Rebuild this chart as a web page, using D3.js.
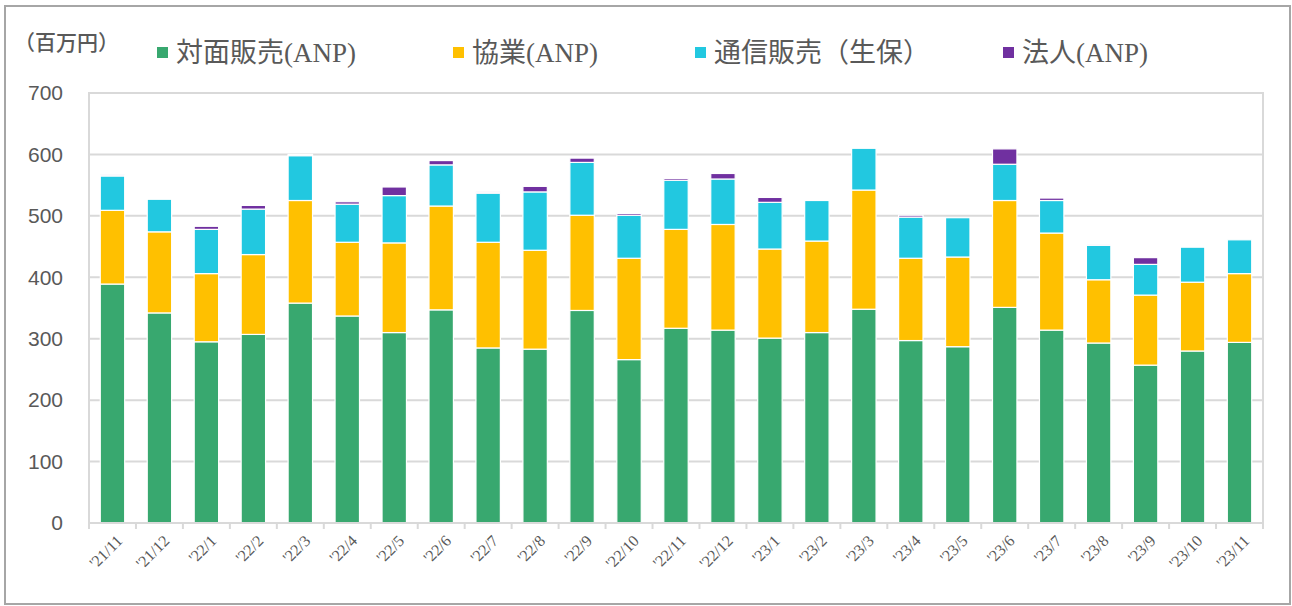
<!DOCTYPE html>
<html>
<head>
<meta charset="utf-8">
<script src="https://cdn.jsdelivr.net/npm/d3@7"></script>
<style>
  body { margin: 0; background: #fff; }
  svg { display: block; }
</style>
</head>
<body>
<svg id="chart" width="1292" height="606"></svg>
<script>
"use strict";

// month labels
const months = ["'21/11", "'21/12", "'22/1", "'22/2", "'22/3", "'22/4", "'22/5", "'22/6", "'22/7",
  "'22/8", "'22/9", "'22/10", "'22/11", "'22/12", "'23/1", "'23/2", "'23/3", "'23/4", "'23/5",
  "'23/6", "'23/7", "'23/8", "'23/9", "'23/10", "'23/11"];

// series values (百万円)
const taimen = [389, 342, 295, 307, 358, 337, 310, 347, 285, 283, 346, 266, 317, 314, 301, 310, 348, 297, 287, 351, 314, 293, 257, 280, 294];
const kyogyo = [120, 132, 111, 130, 167, 120, 146, 169, 172, 161, 155, 165, 161, 172, 145, 149, 194, 134, 146, 174, 158, 103, 114, 112, 112];
const tsushin = [56, 53, 72, 74, 73, 62, 77, 67, 80, 95, 86, 70, 80, 74, 76, 66, 68, 67, 64, 59, 53, 56, 50, 57, 55];
const hojin = [2, 0, 5, 6, 2, 4, 14, 7, 2, 9, 7, 3, 3, 9, 8, 0, 0, 3, 0, 25, 4, 2, 11, 0, 0];

const seriesNames = ["対面販売(ANP)", "協業(ANP)", "通信販売（生保）", "法人(ANP)"];
const seriesColors = ["#38a86f", "#ffc000", "#22c8e0", "#7030a0"];
const yTicks = [0, 100, 200, 300, 400, 500, 600, 700];

const rows = months.map((m, i) => ({
  month: m, s0: taimen[i], s1: kyogyo[i], s2: tsushin[i], s3: hojin[i]
}));

const svg = d3.select("#chart");

// outer frame
svg.append("rect")
  .attr("x", 5).attr("y", 6)
  .attr("width", 1285).attr("height", 598)
  .attr("fill", "none")
  .attr("stroke", "#a6a6a6")
  .attr("stroke-width", 2);

const plot = { left: 89, right: 1263, top: 93, bottom: 523 };

const x = d3.scaleBand()
  .domain(months)
  .range([plot.left, plot.right])
  .paddingInner(0.48)
  .paddingOuter(0.24);

const y = d3.scaleLinear()
  .domain([0, 700])
  .range([plot.bottom, plot.top]);

// gridlines
svg.append("g")
  .selectAll("line")
  .data(yTicks)
  .join("line")
  .attr("x1", plot.left).attr("x2", plot.right)
  .attr("y1", d => y(d)).attr("y2", d => y(d))
  .attr("stroke", "#d9d9d9")
  .attr("stroke-width", 2);

// plot border
svg.append("rect")
  .attr("x", plot.left).attr("y", plot.top)
  .attr("width", plot.right - plot.left)
  .attr("height", plot.bottom - plot.top)
  .attr("fill", "none")
  .attr("stroke", "#d9d9d9")
  .attr("stroke-width", 2);

// y tick labels
svg.append("g")
  .selectAll("text")
  .data(yTicks)
  .join("text")
  .attr("x", 63)
  .attr("y", d => y(d))
  .attr("dy", "0.35em")
  .attr("text-anchor", "end")
  .attr("font-family", "Liberation Sans, Arial, sans-serif")
  .attr("font-size", 21)
  .attr("fill", "#595959")
  .text(d => d);

// stacked bars
const stack = d3.stack().keys(["s0", "s1", "s2", "s3"]);
const layers = stack(rows);

svg.append("g")
  .selectAll("g")
  .data(layers)
  .join("g")
  .attr("fill", (d, i) => seriesColors[i])
  .selectAll("rect")
  .data(d => d.filter(v => v[1] - v[0] > 0))
  .join("rect")
  .attr("x", d => x(d.data.month))
  .attr("width", x.bandwidth())
  .attr("y", d => y(d[1]))
  .attr("height", d => y(d[0]) - y(d[1]))
  .attr("stroke", "#fff")
  .attr("stroke-width", 1.2);

// x axis ticks
const bandStep = x.step();
const tickXs = months.map(m => x(m) - x.paddingInner() * bandStep / 2).concat([plot.right]);
svg.append("line")
  .attr("x1", plot.left).attr("x2", plot.right)
  .attr("y1", plot.bottom).attr("y2", plot.bottom)
  .attr("stroke", "#d9d9d9").attr("stroke-width", 2);
svg.append("g")
  .selectAll("line")
  .data(tickXs)
  .join("line")
  .attr("x1", d => d).attr("x2", d => d)
  .attr("y1", plot.bottom).attr("y2", plot.bottom + 6)
  .attr("stroke", "#d9d9d9").attr("stroke-width", 2);

// x labels
svg.append("g")
  .selectAll("text")
  .data(months)
  .join("text")
  .attr("transform", d => "translate(" + (x(d) + x.bandwidth() / 2 + 7) + "," + 538 + ") rotate(-45)")
  .attr("text-anchor", "end")
  .attr("dy", "0.35em")
  .attr("font-family", "Liberation Serif, serif")
  .attr("font-size", 16)
  .attr("fill", "#595959")
  .text(d => d);

// unit label
svg.append("text")
  .attr("x", 14).attr("y", 50)
  .attr("font-family", "Noto Sans CJK JP, sans-serif")
  .attr("font-size", 21)
  .attr("font-weight", "500")
  .attr("fill", "#595959")
  .text("（百万円）");

// legend
const legendX = [157, 453, 695, 1003];
const legend = svg.append("g")
  .selectAll("g")
  .data(seriesNames)
  .join("g")
  .attr("transform", (d, i) => "translate(" + legendX[i] + ",0)");
legend.append("rect")
  .attr("x", 0).attr("y", 47)
  .attr("width", 11).attr("height", 11)
  .attr("fill", (d, i) => seriesColors[i]);
legend.append("text")
  .attr("x", 19).attr("y", 53)
  .attr("dy", "0.35em")
  .attr("font-family", "Liberation Serif, Noto Sans CJK JP, serif")
  .attr("font-size", 27)
  .attr("fill", "#595959")
  .text(d => d);
</script>
</body>
</html>
